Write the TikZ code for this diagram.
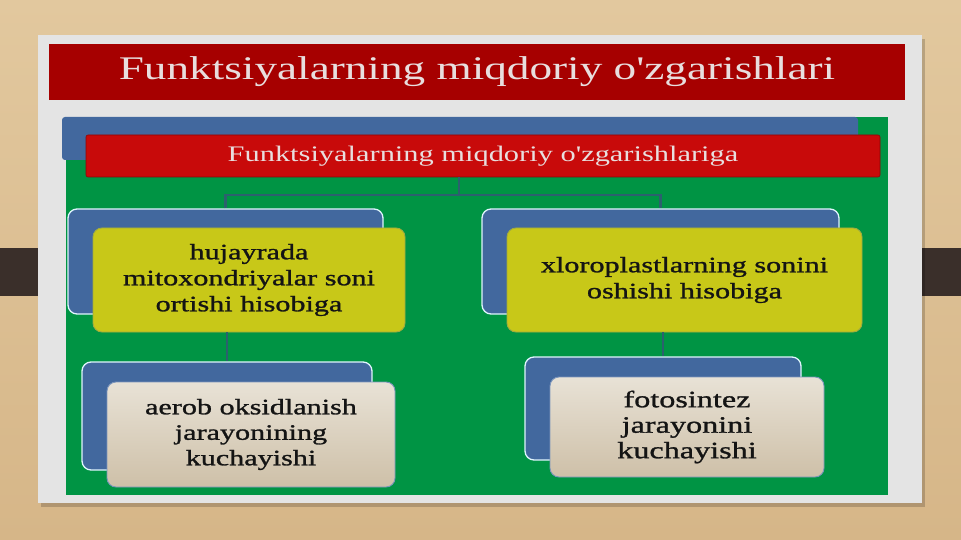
\documentclass[tikz,border=0pt]{standalone}
\usepackage{fontspec}
\setmainfont[FakeStretch=1.37,Ligatures=TeXOff]{Liberation Serif}
\newfontfamily\boxfont[FakeStretch=1.37,FakeBold=1.2,Ligatures=TeXOff]{Liberation Serif}
\usetikzlibrary{calc,shadows}
\definecolor{wood}{RGB}{214,182,136}
\definecolor{woodlight}{RGB}{226,200,158}
\definecolor{darkbar}{RGB}{58,47,42}
\definecolor{slidegray}{RGB}{228,228,228}
\definecolor{titlered}{RGB}{166,0,0}
\definecolor{subred}{RGB}{200,10,10}
\definecolor{slidegreen}{RGB}{0,148,68}
\definecolor{boxblue}{RGB}{66,104,158}
\definecolor{boxyellow}{RGB}{200,200,24}
\definecolor{beigetop}{RGB}{232,226,214}
\definecolor{beigebot}{RGB}{206,192,168}
\definecolor{conncol}{RGB}{44,96,110}
\definecolor{titletext}{RGB}{232,222,222}
\tikzset{
  backbox/.style={draw=white!70!cyan!40!white, line width=1.3pt, fill=boxblue, rounded corners=9pt, minimum width=#1, inner sep=0pt},
  yellowbox/.style={draw=boxyellow!70!boxblue, line width=0.9pt, fill=boxyellow, rounded corners=9pt, align=center, inner sep=0pt, font=\boxfont\fontsize{22}{26}\selectfont, text=black!92},
  beigebox/.style={draw=boxblue!70!white, line width=0.9pt, top color=beigetop, bottom color=beigebot, rounded corners=9pt, align=center, inner sep=0pt, font=\boxfont\fontsize{22}{25.5}\selectfont, text=black!92},
  conn/.style={draw=conncol, line width=2.4pt},
}
\begin{document}
\begin{tikzpicture}[x=1pt,y=-1pt]
\useasboundingbox (0,0) rectangle (961,540);
% background
\fill[top color=woodlight, bottom color=wood] (0,0) rectangle (961,540);
\fill[darkbar] (0,248) rectangle (38,296);
\fill[darkbar] (919,248) rectangle (961,296);
% slide
\fill[black, opacity=0.18] (41,39) rectangle (925,507);
\node[fill=slidegray, minimum width=884pt, minimum height=468pt, inner sep=0pt] (slide) at (480,269) {};
% title
\node[fill=titlered, minimum width=856pt, minimum height=56pt, inner sep=0pt, text=titletext, font=\fontsize{33}{36}\selectfont] (title) at (477,72) {Funktsiyalarning miqdoriy o'zgarishlari};
% green panel
\node[fill=slidegreen, minimum width=822pt, minimum height=378pt, inner sep=0pt] (green) at (477,306) {};
\node[fill=boxblue, rounded corners=3pt, minimum width=796pt, minimum height=43pt, inner sep=0pt] (bluebar) at (460,138.5) {};
\node[fill=subred, draw=subred!70!black, line width=0.6pt, rounded corners=2pt, minimum width=794pt, minimum height=42pt, inner sep=0pt, text=titletext, font=\fontsize{22.2}{26}\selectfont] (subbar) at (483,156) {Funktsiyalarning miqdoriy o'zgarishlariga};
% back boxes
\node[backbox=315pt, minimum height=105pt] (L1b) at (225.5,261.5) {};
\node[backbox=357pt, minimum height=105pt] (R1b) at (660.5,261.5) {};
\node[backbox=290pt, minimum height=108pt] (L2b) at (227,416) {};
\node[backbox=276pt, minimum height=103pt] (R2b) at (663,408.5) {};
% connectors
\coordinate (hub) at (459,195);
\draw[conn] (hub |- subbar.south) -- (hub);
\draw[conn] (L1b.north) |- (hub) -| (R1b.north);
% front boxes
\node[yellowbox, minimum width=312pt, minimum height=104pt] (L1) at (249,280) {hujayrada\\mitoxondriyalar soni\\ortishi hisobiga};
\node[yellowbox, minimum width=355pt, minimum height=104pt] (R1) at (684.5,280) {xloroplastlarning sonini\\oshishi hisobiga};
\draw[conn] (L2b.north |- L1.south) -- (L2b.north);
\draw[conn] (R2b.north |- R1.south) -- (R2b.north);
\node[beigebox, minimum width=288pt, minimum height=105pt] (L2) at (251,434.5) {aerob oksidlanish\\jarayonining\\kuchayishi};
\node[beigebox, minimum width=274pt, minimum height=100pt, font=\boxfont\fontsize{23.5}{25.5}\selectfont] (R2) at (687,427) {fotosintez\\jarayonini\\kuchayishi};
\end{tikzpicture}
\end{document}
